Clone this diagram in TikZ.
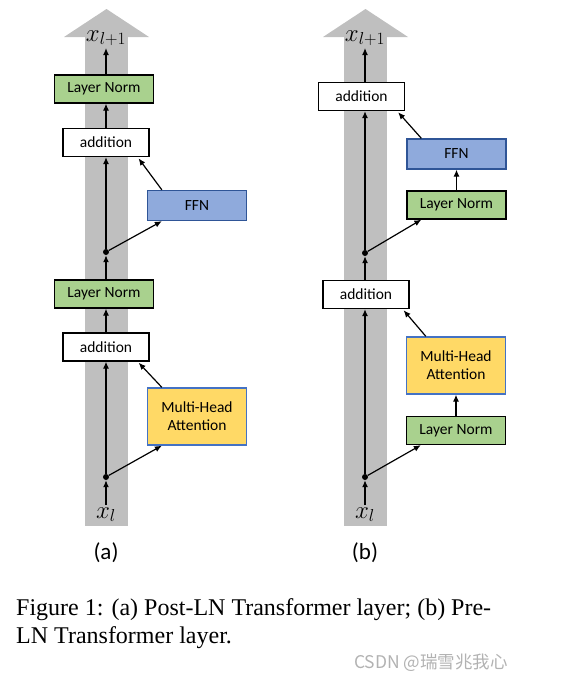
\documentclass[tikz,border=0pt]{standalone}
\usepackage{fontspec}
\setmainfont{Liberation Serif}
\newfontfamily\boxfont{Carlito}
\newfontfamily\cjkfont{Noto Sans CJK SC}
\usetikzlibrary{arrows.meta}

\definecolor{lngreen}{HTML}{A9D18E}
\definecolor{ffnblue}{HTML}{8FAADC}
\definecolor{ffnedge}{HTML}{2F5597}
\definecolor{attyellow}{HTML}{FFD966}
\definecolor{attedge}{HTML}{4472C4}
\definecolor{bandgray}{HTML}{BFBFBF}

\tikzset{
    blk/.style={draw=black, line width=1.3pt, inner sep=0pt, align=center,
        font={\boxfont\fontsize{15.5}{18}\selectfont}},
    lnorm/.style={blk, fill=lngreen, minimum width=99pt, minimum height=28pt},
    addbox/.style={blk, fill=white, minimum width=86pt, minimum height=28pt},
    ffn/.style={blk, draw=ffnedge, fill=ffnblue, minimum width=99pt, minimum height=30pt},
    mha/.style={blk, draw=attedge, fill=attyellow, minimum width=99pt, minimum height=57pt},
    junc/.style={circle, fill=black, inner sep=0pt, minimum size=6pt},
    link/.style={-{Latex[length=7pt,width=6pt]}, line width=1.2pt},
    band/.style={fill=bandgray, draw=none},
    xlab/.style={inner sep=2pt, font={\fontsize{23}{25}\selectfont}},
    sublab/.style={inner sep=0pt, font={\boxfont\fontsize{23}{26}\selectfont}},
}

\begin{document}
\begin{tikzpicture}[x=1pt, y=-1pt]
    \useasboundingbox (0,0) rectangle (572,680);
    % (a) Post-LN
    \fill[band] (85,37) rectangle (128,526);
    \fill[band] (64,37) -- (106.5,9) -- (149,37) -- cycle;
    \node[xlab, anchor=base] (aout) at (106,41) {$x_{l+1}$};
    \node[lnorm] (aln1) at (104,89) {Layer Norm};
    \node[addbox] (aadd1) at (106,142.5) {addition};
    \node[ffn] (affn) at (197,205.5) {FFN};
    \node[junc] (aj2) at (106,252) {};
    \node[lnorm] (aln2) at (104,294) {Layer Norm};
    \node[addbox] (aadd2) at (106,347) {addition};
    \node[mha] (amha) at (197,416.5) {Multi-Head\\Attention};
    \node[junc] (aj1) at (106,477) {};
    \node[xlab, anchor=base] (ain) at (106,518) {$x_l$};
    \node[sublab] (acap) at (106,553) {(a)};
    \draw[link] (ain.north) -- (aj1);
    \draw[link] (aj1) -- (aj1 |- aadd2.south);
    \draw[link] (aj1) -- ([xshift=15pt]amha.south west);
    \draw[link, shorten >=1.5pt] ([xshift=15pt]amha.north west) -- ([xshift=-12pt]aadd2.south east);
    \draw[link] (aj1 |- aadd2.north) -- (aj1 |- aln2.south);
    \draw[link] (aj1 |- aln2.north) -- (aj2);
    \draw[link] (aj2) -- (aj2 |- aadd1.south);
    \draw[link] (aj2) -- ([xshift=15pt]affn.south west);
    \draw[link, shorten >=1.5pt] ([xshift=15pt]affn.north west) -- ([xshift=-12pt]aadd1.south east);
    \draw[link] (aj2 |- aadd1.north) -- (aj2 |- aln1.south);
    \draw[link] (aj2 |- aln1.north) -- (aj2 |- aout.south);
    % (b) Pre-LN
    \fill[band] (344,37) rectangle (387,526);
    \fill[band] (323,37) -- (365.5,9) -- (408,37) -- cycle;
    \node[xlab, anchor=base] (bout) at (365,41) {$x_{l+1}$};
    \node[addbox] (badd1) at (361.5,96.5) {addition};
    \node[ffn] (bffn) at (456.5,154) {FFN};
    \node[lnorm] (bln1) at (456.5,205) {Layer Norm};
    \node[junc] (bj2) at (365,253) {};
    \node[addbox] (badd2) at (366,294.5) {addition};
    \node[mha] (bmha) at (456,365.5) {Multi-Head\\Attention};
    \node[lnorm] (bln2) at (456,430.5) {Layer Norm};
    \node[junc] (bj1) at (365,477) {};
    \node[xlab, anchor=base] (bin) at (365,518) {$x_l$};
    \node[sublab] (bcap) at (365,553) {(b)};
    \draw[link] (bin.north) -- (bj1);
    \draw[link] (bj1) -- (bj1 |- badd2.south);
    \draw[link] (bj1) -- ([xshift=15pt]bln2.south west);
    \draw[link] (bln2.north) -- (bmha.south);
    \draw[link, shorten >=1.5pt] ([xshift=20pt]bmha.north west) -- ([xshift=-7pt]badd2.south east);
    \draw[link] (bj1 |- badd2.north) -- (bj2);
    \draw[link] (bj2) -- (bj2 |- badd1.south);
    \draw[link] (bj2) -- ([xshift=15pt]bln1.south west);
    \draw[link] (bln1.north) -- (bffn.south);
    \draw[link, shorten >=1.5pt] ([xshift=15pt]bffn.north west) -- ([xshift=-8pt]badd1.south east);
    \draw[link] (bj2 |- badd1.north) -- (bj2 |- bout.south);
    % caption
    \node[anchor=base west, inner sep=0pt, font={\fontsize{24}{28}\selectfont}] (cap1) at (16,615)
        {Figure 1: (a) Post-LN Transformer layer; (b) Pre-};
    \node[anchor=base west, inner sep=0pt, font={\fontsize{24}{28}\selectfont}] (cap2) at (16,643)
        {LN Transformer layer.};
    \node[anchor=base east, inner sep=0pt, text=black!30, font={\cjkfont\fontsize{17.5}{20}\selectfont}] (mark) at (508,668)
        {CSDN @瑞雪兆我心};
\end{tikzpicture}
\end{document}
